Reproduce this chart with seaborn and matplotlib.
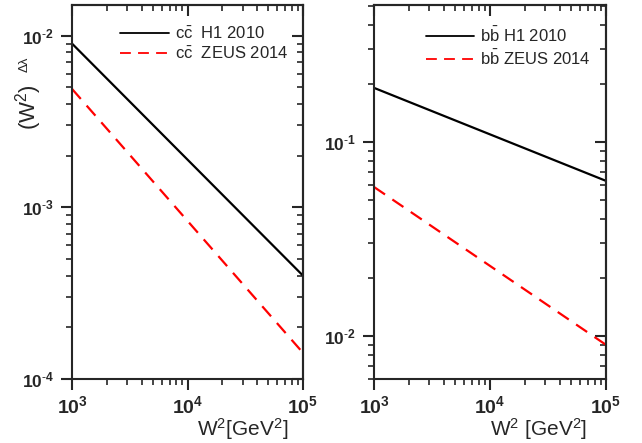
import numpy as np
import pandas as pd
import matplotlib
matplotlib.use("Agg")
import matplotlib.pyplot as plt
import seaborn as sns
from matplotlib.ticker import LogLocator, FuncFormatter, NullFormatter

# ---- data ----
w2 = [1e3, 1e5]
cc_h1 = [0.0090, 4.0e-4]
cc_zeus = [0.0049, 1.42e-4]
bb_h1 = [0.19, 0.063]
bb_zeus = [0.0586, 0.0090]
cc_labels = [r"c$\mathregular{\bar{c}}$  H1 2010", r"c$\mathregular{\bar{c}}$  ZEUS 2014"]
bb_labels = [r"b$\mathregular{\bar{b}}$ H1 2010", r"b$\mathregular{\bar{b}}$ ZEUS 2014"]

sns.set_style("ticks")
plt.rcParams["font.family"] = ["Liberation Sans", "DejaVu Sans"]
plt.rcParams["mathtext.fontset"] = "custom"
plt.rcParams["mathtext.rm"] = "Liberation Sans"
plt.rcParams["mathtext.it"] = "Liberation Sans:italic"
plt.rcParams["mathtext.bf"] = "Liberation Sans:bold"
plt.rcParams["mathtext.fallback"] = "cm"

fig = plt.figure(figsize=(6.42, 4.43), dpi=100)
axL = fig.add_axes([72 / 642, 1 - 379 / 443, 231 / 642, 374 / 443])
axR = fig.add_axes([374 / 642, 1 - 379 / 443, 232 / 642, 374 / 443])


def tick_fmt(v, pos):
    e = int(round(np.log10(v)))
    if e < 0:
        return r"$\mathbf{10^{\text{-}%d}}$" % (-e)
    return r"$\mathbf{10^{%d}}$" % e


def draw(ax, h1, zeus, labels, ylim):
    df = pd.DataFrame({
        "W2": w2 + w2,
        "val": h1 + zeus,
        "series": [labels[0]] * 2 + [labels[1]] * 2,
    })
    sns.lineplot(data=df, x="W2", y="val", hue="series", style="series",
                 palette={labels[0]: "black", labels[1]: "red"},
                 dashes={labels[0]: "", labels[1]: (6, 4)},
                 linewidth=1.6, ax=ax, legend=True)
    ax.set_xscale("log")
    ax.set_yscale("log")
    ax.set_xlim(1e3, 1e5)
    ax.set_ylim(*ylim)
    for s in ax.spines.values():
        s.set_visible(True)
        s.set_linewidth(1.5)
    ax.xaxis.set_major_locator(LogLocator(base=10, numticks=10))
    ax.xaxis.set_minor_locator(LogLocator(base=10, subs=np.arange(2, 10), numticks=20))
    ax.yaxis.set_major_locator(LogLocator(base=10, numticks=10))
    ax.yaxis.set_minor_locator(LogLocator(base=10, subs=np.arange(2, 10), numticks=20))
    ax.xaxis.set_major_formatter(FuncFormatter(tick_fmt))
    ax.yaxis.set_major_formatter(FuncFormatter(tick_fmt))
    ax.xaxis.set_minor_formatter(NullFormatter())
    ax.yaxis.set_minor_formatter(NullFormatter())
    ax.tick_params(which="major", direction="out", length=8, width=1.5, pad=5)
    ax.tick_params(axis="x", which="major", labelsize=14, pad=4)
    ax.tick_params(axis="y", which="major", labelsize=12.5)
    ax.tick_params(which="minor", direction="out", length=4, width=1.2)
    # mirrored ticks on top/right pointing inward
    sx = ax.secondary_xaxis("top")
    sx.xaxis.set_major_locator(LogLocator(base=10, numticks=10))
    sx.xaxis.set_minor_locator(LogLocator(base=10, subs=np.arange(2, 10), numticks=20))
    sx.xaxis.set_major_formatter(NullFormatter())
    sx.xaxis.set_minor_formatter(NullFormatter())
    sx.tick_params(which="major", direction="in", length=8, width=1.5)
    sx.tick_params(which="minor", direction="in", length=4, width=1.2)
    sx.spines["top"].set_linewidth(1.5)
    sy = ax.secondary_yaxis("right")
    sy.yaxis.set_major_locator(LogLocator(base=10, numticks=10))
    sy.yaxis.set_minor_locator(LogLocator(base=10, subs=np.arange(2, 10), numticks=20))
    sy.yaxis.set_major_formatter(NullFormatter())
    sy.yaxis.set_minor_formatter(NullFormatter())
    sy.tick_params(which="major", direction="in", length=8, width=1.5)
    sy.tick_params(which="minor", direction="in", length=4, width=1.2)
    sy.spines["right"].set_linewidth(1.5)
    leg = ax.legend(loc="upper right", frameon=False, fontsize=12,
                    handlelength=2.9, handletextpad=0.35, labelspacing=0.2,
                    bbox_to_anchor=(0.985, 0.975), borderaxespad=0.3)
    for line in leg.get_lines():
        line.set_linewidth(1.3)


draw(axL, cc_h1, cc_zeus, cc_labels, (1e-4, 0.0151))
draw(axR, bb_h1, bb_zeus, bb_labels, (0.006, 0.508))

axL.set_ylabel("")
axR.set_ylabel("")
axL.text(-0.186, 0.727, r"$\mathregular{(W^2)}$", transform=axL.transAxes,
         rotation=90, ha="center", va="center", fontsize=16)
axL.text(-0.205, 0.842, "Δλ", transform=axL.transAxes,
         rotation=90, ha="center", va="center", fontsize=9.5)
axL.set_xlabel(r"$\mathregular{W^2[GeV^2]}$", fontsize=15)
axL.xaxis.set_label_coords(0.74, -0.1)
axR.set_xlabel(r"$\mathregular{W^2\ [GeV^2]}$", fontsize=15)
axR.xaxis.set_label_coords(0.71, -0.1)

fig.savefig("out.png", dpi=100)
